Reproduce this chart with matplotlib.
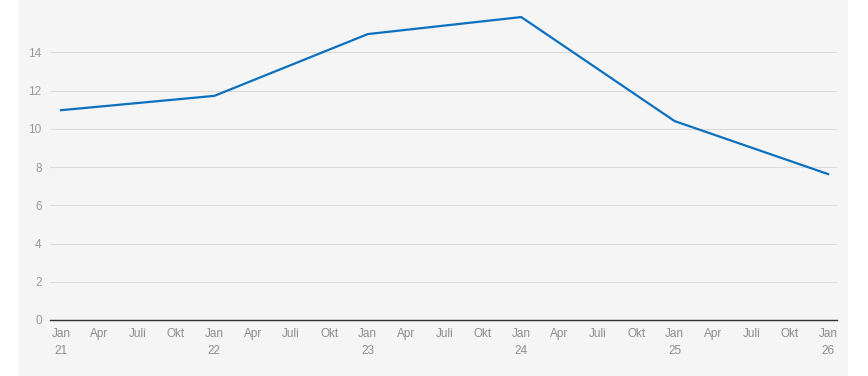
import matplotlib
matplotlib.use('Agg')
import matplotlib.pyplot as plt
from matplotlib.patches import Rectangle

# Data (one point per January, 2021-2026)
years = ['21', '22', '23', '24', '25', '26']
values = [10.97, 11.72, 14.95, 15.84, 10.40, 7.63]
quarter_names = ['Jan', 'Apr', 'Juli', 'Okt']
y_ticks = [0, 2, 4, 6, 8, 10, 12, 14]

plt.rcParams['font.family'] = ['Liberation Sans', 'DejaVu Sans']

W, H = 868, 376
fig = plt.figure(figsize=(W / 100, H / 100), dpi=100)
fig.patch.set_facecolor('white')

# Gray background panel
fig.patches.append(Rectangle((18 / W, 0), (848 - 18) / W, 1,
                             transform=fig.transFigure, facecolor='#f5f5f5',
                             edgecolor='none', zorder=-10))

ax = fig.add_axes([50 / W, (H - 320) / H, (837 - 50) / W, (320 - 14) / H])
ax.set_facecolor('#f5f5f5')

# x positions in months since Jan 21
x_vals = [12 * i for i in range(len(years))]
ax.plot(x_vals, values, color='#0a70bf', linewidth=1.6, zorder=3,
        solid_joinstyle='miter')

ax.set_xlim(-0.86, 60.7)
ax.set_ylim(0, 16)

# x ticks every quarter
xt, xl = [], []
for m in range(0, 61, 3):
    name = quarter_names[(m // 3) % 4]
    if m % 12 == 0:
        name += '\n' + years[m // 12]
    xt.append(m)
    xl.append(name)
ax.set_xticks(xt)
ax.set_xticklabels(xl, fontsize=8.5, color='#8c8c8c', linespacing=1.55)
ax.set_yticks(y_ticks)
ax.set_yticklabels([str(v) for v in y_ticks], fontsize=8.5, color='#999999')
ax.tick_params(axis='both', length=0)
ax.tick_params(axis='x', pad=6)
ax.tick_params(axis='y', pad=6)

ax.grid(axis='y', color='#dcdcdc', linewidth=0.8)
ax.set_axisbelow(True)
for side in ['top', 'right', 'left']:
    ax.spines[side].set_visible(False)
ax.spines['bottom'].set_color('#333333')
ax.spines['bottom'].set_linewidth(1.0)

fig.savefig('out.png', dpi=100, facecolor=fig.get_facecolor())
